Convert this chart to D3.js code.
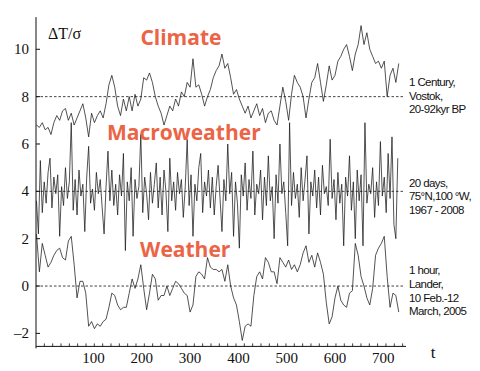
<!DOCTYPE html>
<html>
<head>
<meta charset="utf-8">
<script src="https://cdn.jsdelivr.net/npm/d3@7/dist/d3.min.js"></script>
<style>
body { margin: 0; background: #fff; }
.tick-lbl { font-family: "Liberation Serif", serif; font-size: 15px; fill: #111; }
.regime { font-family: "Open Sans", sans-serif; font-weight: bold; font-size: 21px; fill: #ec6446; }
.note { font-family: "Liberation Sans", Arial, sans-serif; font-size: 11.5px; fill: #111; letter-spacing: -0.6px; }
</style>
</head>
<body>
<div id="chart"></div>
<script>
// series offsets: weather at 0, macroweather at 4, climate at 8 (values already include offset)
var climate = [
  6.8, 6.7, 6.9, 6.6, 6.7, 6.4, 6.9, 7.2, 7.0, 7.4,
  7.5, 7.0, 7.3, 6.8, 7.1, 7.4, 7.7, 7.1, 6.3, 7.3,
  6.9, 7.2, 7.4, 7.1, 7.7, 8.5, 8.9, 8.4, 7.6, 7.2,
  7.9, 7.4, 8.0, 7.4, 8.1, 7.6, 7.9, 8.8, 8.7, 9.0,
  8.6, 8.0, 7.6, 7.3, 6.8, 7.2, 7.6, 7.4, 7.9, 7.6,
  8.2, 8.0, 8.6, 8.4, 9.6, 8.4, 8.5, 8.1, 7.6, 8.0,
  8.3, 8.8, 9.1, 9.3, 9.8, 9.2, 9.4, 8.8, 8.1, 8.3,
  7.9, 7.6, 7.3, 7.6, 7.1, 7.4, 7.7, 7.2, 7.5, 6.9,
  7.3, 7.4, 7.0, 6.8, 7.6, 8.4, 7.8, 7.0, 8.1, 8.9,
  8.6, 8.4, 8.0, 7.1, 7.9, 8.6, 8.8, 9.4, 8.6, 7.8,
  8.5, 9.3, 8.7, 8.9, 9.5, 9.7, 10.0, 10.2, 9.7, 9.1,
  9.8, 10.2, 11.0, 10.2, 10.7, 10.0, 9.7, 9.4, 9.5, 9.2,
  9.5, 8.0, 8.9, 9.2, 8.6, 9.4
];

var macroweather = [
  3.6, 2.2, 5.3, 3.1, 4.4, 3.5, 4.8, 5.4, 3.3, 4.6,
  3.9, 4.7, 2.1, 4.2, 3.4, 5.0, 3.7, 4.4, 6.9, 3.2,
  4.5, 3.0, 4.9, 3.8, 4.3, 2.3, 4.6, 5.9, 3.5, 4.1,
  3.2, 4.8, 3.9, 4.5, 3.3, 2.2, 4.2, 5.7, 3.6, 4.9,
  3.4, 4.3, 3.0, 4.7, 3.8, 5.6, 1.5, 4.4, 3.6, 5.0,
  2.1, 4.5, 3.7, 4.2, 6.4, 3.1, 4.6, 3.9, 2.8, 4.8,
  3.5, 4.3, 5.2, 3.3, 4.6, 3.0, 4.9, 4.0, 2.3, 5.4,
  3.6, 4.4, 3.2, 4.8, 3.9, 4.5, 2.9, 4.2, 6.2, 3.4,
  4.7, 2.1, 4.3, 3.6, 5.0, 5.6, 3.1, 4.4, 3.8, 4.9,
  3.3, 4.6, 3.0, 4.2, 5.1, 3.7, 2.3, 4.5, 3.6, 6.0,
  3.9, 4.8, 2.1, 4.4, 3.5, 1.6, 4.7, 3.8, 5.2, 3.2,
  4.5, 3.7, 5.7, 3.0, 4.3, 3.9, 4.9, 2.8, 4.6, 3.4,
  5.5, 3.6, 4.2, 2.0, 4.7, 3.5, 6.0, 3.9, 4.4, 3.1,
  1.7, 6.9, 3.4, 4.8, 3.7, 4.3, 2.9, 5.0, 3.6, 4.5,
  5.5, 2.2, 4.4, 3.8, 4.9, 3.3, 4.6, 3.0, 5.1, 3.9,
  4.2, 3.4, 6.2, 3.7, 4.5, 2.8, 4.8, 3.5, 4.3, 1.7,
  4.6, 3.8, 5.5, 3.2, 4.4, 2.0, 4.9, 3.6, 4.7, 1.7,
  6.9, 3.5, 4.3, 3.9, 5.0, 2.9, 4.4, 3.4, 6.1, 3.8,
  4.6, 3.1, 5.6, 3.7, 6.3, 2.6, 2.0, 5.4
];

var weather = [
  2.2, 0.6, 1.8, 1.3, 0.8, 1.0, 1.3, 1.5, 1.6, 1.2,
  1.1, 1.9, 2.1, 0.9, -0.5, 0.2, 0.2, -0.3, -1.7, -1.5,
  -1.8, -1.6, -1.7, -1.5, -1.4, -0.9, -0.3, -0.4, -0.8, -1.0,
  -0.9, -0.9, -0.3, 0.3, -0.1, 0.3, 0.9, -0.1, -1.0, -0.3,
  0.5, 0.3, -0.6, -0.4, -0.4, 0.0, -0.4, -0.1, 0.2, 0.1,
  -0.1, -0.3, -0.4, -1.1, -0.8, 0.4, 0.6, 0.5, 0.3, 1.2,
  0.8, 0.7, 0.7, 0.6, 0.7, 0.2, 0.9, 0.0, -0.5, -0.8,
  -1.5, -2.3, -1.7, -1.6, -1.7, -0.4, 0.4, 0.6, 0.3, 1.2,
  1.0, 0.6, 0.6, 0.1, 1.2, 1.0, 0.8, 1.1, 0.7, 0.9,
  0.6, 0.9, 1.4, 1.7, 1.0, 1.3, 0.8, 1.4, 1.0, 0.5,
  -0.7, -1.6, -1.3, -0.5, 0.0, -0.6, -0.8, -0.9, -0.3, -0.2,
  1.8, 1.3, 0.4, 0.0, -0.5, -0.8, -0.1, 1.3, 1.6, 1.8,
  2.1, 0.4, -0.9, -0.3, -0.4, -1.1
];

// sampling times (t) for the series
var tStart = -18;
var climateStep = 6, macroStep = 4, weatherStep = 6;

var yTicks = [-2, 0, 2, 4, 6, 8, 10];
var xTicks = [100, 200, 300, 400, 500, 600, 700];
var refLevels = [0, 4, 8];

var regimes = [
  {name: "Climate", t: 281, v: 10.2},
  {name: "Macroweather", t: 287, v: 6.17},
  {name: "Weather", t: 290, v: 1.22}
];
var notes = [
  {lines: ["1 Century,", "Vostok,", "20-92kyr BP"], v: 8.45},
  {lines: ["20 days,", "75\u00b0N,100 \u00b0W,", "1967 - 2008"], v: 4.2},
  {lines: ["1 hour,", "Lander,", "10 Feb.-12", "March, 2005"], v: 0.5}
];

var width = 480, height = 371;

var x = d3.scaleLinear().domain([-19, 747]).range([36, 406]);
var y = d3.scaleLinear().domain([-2.55, 11.36]).range([346.4, 17.1]);

var svg = d3.select("#chart").append("svg")
  .attr("width", width)
  .attr("height", height);

// dashed reference levels
svg.selectAll(".ref")
  .data(refLevels)
  .enter().append("line")
  .attr("class", "ref")
  .attr("x1", x(-19))
  .attr("x2", x(741))
  .attr("y1", function(d) { return y(d); })
  .attr("y2", function(d) { return y(d); })
  .attr("stroke", "#111")
  .attr("stroke-width", 0.8)
  .attr("stroke-dasharray", "2.5,2");

function drawSeries(vals, step) {
  var line = d3.line()
    .x(function(d, i) { return x(tStart + i * step); })
    .y(function(d) { return y(d); });
  svg.append("path")
    .datum(vals)
    .attr("d", line)
    .attr("fill", "none")
    .attr("stroke", "#1a1a1a")
    .attr("stroke-width", 0.75)
    .attr("stroke-linejoin", "round");
}

drawSeries(macroweather, macroStep);
drawSeries(climate, climateStep);
drawSeries(weather, weatherStep);

// axes
var x0 = x.range()[0], yb = y.range()[0];

svg.append("line")
  .attr("x1", x0).attr("x2", x0)
  .attr("y1", y.range()[1]).attr("y2", yb + 2)
  .attr("stroke", "#111").attr("stroke-width", 1);

svg.append("line")
  .attr("x1", x0).attr("x2", x.range()[1])
  .attr("y1", yb).attr("y2", yb)
  .attr("stroke", "#111").attr("stroke-width", 1);

// y ticks
svg.selectAll(".ytick")
  .data(yTicks)
  .enter().append("line")
  .attr("x1", x0).attr("x2", x0 + 4)
  .attr("y1", function(d) { return y(d); })
  .attr("y2", function(d) { return y(d); })
  .attr("stroke", "#111").attr("stroke-width", 1);

svg.selectAll(".ylbl")
  .data(yTicks)
  .enter().append("text")
  .attr("class", "tick-lbl")
  .attr("x", 29)
  .attr("y", function(d) { return y(d) + 5; })
  .style("text-anchor", "end")
  .text(function(d) { return d < 0 ? "\u2013" + Math.abs(d) : d; });

// x minor ticks
var minor = d3.range(-19 + 17.25, 747, 17.25);
svg.selectAll(".xtick")
  .data(minor)
  .enter().append("line")
  .attr("x1", function(d) { return x(d); })
  .attr("x2", function(d) { return x(d); })
  .attr("y1", yb).attr("y2", yb - 3)
  .attr("stroke", "#111").attr("stroke-width", 0.8);

svg.selectAll(".xlbl")
  .data(xTicks)
  .enter().append("text")
  .attr("class", "tick-lbl")
  .attr("x", function(d) { return x(d); })
  .attr("y", 363)
  .style("text-anchor", "middle")
  .text(function(d) { return d; });

svg.append("text")
  .attr("class", "tick-lbl")
  .attr("x", 433).attr("y", 358)
  .style("font-size", "17px")
  .style("text-anchor", "middle")
  .text("t");

svg.append("text")
  .attr("class", "tick-lbl")
  .attr("x", 48).attr("y", 39)
  .style("font-size", "16px")
  .text("\u0394T/\u03c3");

svg.selectAll(".regime")
  .data(regimes)
  .enter().append("text")
  .attr("class", "regime")
  .attr("x", function(d) { return x(d.t); })
  .attr("y", function(d) { return y(d.v); })
  .style("text-anchor", "middle")
  .text(function(d) { return d.name; });

var noteG = svg.selectAll(".noteg")
  .data(notes)
  .enter().append("text")
  .attr("class", "note")
  .attr("transform", function(d) { return "translate(409," + y(d.v) + ")"; });

noteG.selectAll("tspan")
  .data(function(d) { return d.lines; })
  .enter().append("tspan")
  .attr("x", 0)
  .attr("y", function(d, i) { return i * 13.7; })
  .text(function(d) { return d; });
</script>
</body>
</html>
